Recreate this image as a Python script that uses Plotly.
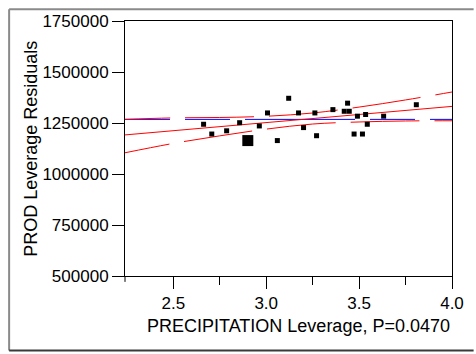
import plotly.graph_objects as go

# Leverage residuals for PROD against PRECIPITATION leverage
precip_lev = [2.663, 2.707, 2.787, 2.857, 2.963, 3.007, 3.060, 3.121, 3.174, 3.201,
              3.262, 3.271, 3.359, 3.420, 3.438, 3.447, 3.491, 3.473, 3.518, 3.535,
              3.544, 3.632, 3.808]
prod_resid = [1243800, 1195900, 1211700, 1251400, 1235600, 1299300, 1163800, 1371200,
              1299300, 1227500, 1299300, 1187700, 1315600, 1307500, 1347200, 1307500,
              1283500, 1195900, 1195900, 1291700, 1243800, 1283500, 1339600]

# highlighted (selected) row
sel_x = [2.901]
sel_y = [1163800]

# fitted line, mean line and confidence curves
fit_x = [2.24, 4.0]
fit_y = [1191600, 1331400]
mean_y = 1267700
band_x = [2.24, 2.5, 2.75, 3.0, 3.25, 3.5, 3.75, 4.0]
band_upper = [1268000, 1275000, 1277000, 1283000, 1299000, 1328000, 1363000, 1402000]
band_lower = [1104000, 1150000, 1187000, 1220000, 1245000, 1255000, 1260000, 1261000]

x_ticks = [2.5, 3.0, 3.5, 4.0]
x_labels = ["2.5", "3.0", "3.5", "4.0"]
x_minor = [2.75, 3.25, 3.75]
y_ticks = [500000, 750000, 1000000, 1250000, 1500000, 1750000]

x_title = "PRECIPITATION Leverage, P=0.0470"
y_title = "PROD Leverage Residuals"

FONT = "Liberation Sans, Arial, sans-serif"
RED = "#ff0000"
BLUE = "#0000ff"
DASH = "69px,15px"

fig = go.Figure()

fig.add_trace(go.Scatter(
    x=fit_x, y=[mean_y, mean_y], mode="lines",
    line=dict(color=BLUE, width=1, dash="45px,15px,45px,15px,110px,15px,45px,15px,45px"),
    hoverinfo="skip", showlegend=False))

band_dash = "45px,15px," + ",".join([DASH] * 6)
fig.add_trace(go.Scatter(
    x=band_x, y=band_upper, mode="lines",
    line=dict(color=RED, width=1, dash=band_dash, shape="spline"),
    hoverinfo="skip", showlegend=False))
fig.add_trace(go.Scatter(
    x=band_x, y=band_lower, mode="lines",
    line=dict(color=RED, width=1, dash=band_dash, shape="spline"),
    hoverinfo="skip", showlegend=False))
fig.add_trace(go.Scatter(
    x=fit_x, y=fit_y, mode="lines",
    line=dict(color=RED, width=1),
    hoverinfo="skip", showlegend=False))

fig.add_trace(go.Scatter(
    x=precip_lev, y=prod_resid, mode="markers",
    marker=dict(symbol="square", size=5, color="black", line=dict(width=0)),
    showlegend=False))
fig.add_trace(go.Scatter(
    x=sel_x, y=sel_y, mode="markers",
    marker=dict(symbol="square", size=11, color="black", line=dict(width=0)),
    showlegend=False))

fig.update_xaxes(
    range=[2.24, 4.0], tickvals=x_ticks, ticktext=x_labels,
    ticks="outside", ticklen=12, tickwidth=1, tickcolor="black",
    minor=dict(tickvals=x_minor, ticks="outside", ticklen=8, tickwidth=1, tickcolor="black"),
    showline=True, linecolor="black", linewidth=1, mirror=True,
    showgrid=False, zeroline=False,
    tickfont=dict(family=FONT, size=17, color="black"),
)
fig.update_yaxes(
    range=[500000, 1750000], tickvals=y_ticks, tickformat="d",
    ticks="outside", ticklen=12, tickwidth=1, tickcolor="black",
    showline=True, linecolor="black", linewidth=1, mirror=True,
    showgrid=False, zeroline=False,
    tickfont=dict(family=FONT, size=17, color="black"),
)

L, R, T, B = 125, 18, 16, 78
PW, PH = 476 - L - R, 354 - T - B

def px_x(px):
    return (px - L) / PW

def px_y(py):
    return (354 - B - py) / PH

shapes = [
    # y axis line runs a little below the x axis
    dict(type="line", xref="paper", yref="paper", x0=0, x1=0, y0=0, y1=px_y(282),
         line=dict(color="black", width=1)),
    # window frame
    dict(type="line", xref="paper", yref="paper", x0=px_x(7), x1=px_x(7),
         y0=px_y(4), y1=px_y(352), line=dict(color="#8a8a8a", width=2)),
    dict(type="line", xref="paper", yref="paper", x0=px_x(7), x1=px_x(480),
         y0=px_y(4), y1=px_y(4), line=dict(color="#8a8a8a", width=2)),
    dict(type="line", xref="paper", yref="paper", x0=px_x(7), x1=px_x(480),
         y0=px_y(352), y1=px_y(352), line=dict(color="#3a3a3a", width=2)),
]

annotations = [
    dict(text=x_title, xref="paper", yref="paper", x=px_x(302), y=px_y(327),
         xanchor="center", yanchor="middle", showarrow=False,
         font=dict(family=FONT, size=18, color="black")),
    dict(text=y_title, xref="paper", yref="paper", x=px_x(28.5), y=px_y(146),
         xanchor="center", yanchor="middle", textangle=-90, showarrow=False,
         font=dict(family=FONT, size=18, color="black")),
]

fig.update_layout(
    width=476, height=354,
    margin=dict(l=L, r=R, t=T, b=B, pad=0),
    paper_bgcolor="white", plot_bgcolor="white",
    font=dict(family=FONT, color="black"),
    shapes=shapes,
    annotations=annotations,
    showlegend=False,
)

fig.write_html("out.html")
